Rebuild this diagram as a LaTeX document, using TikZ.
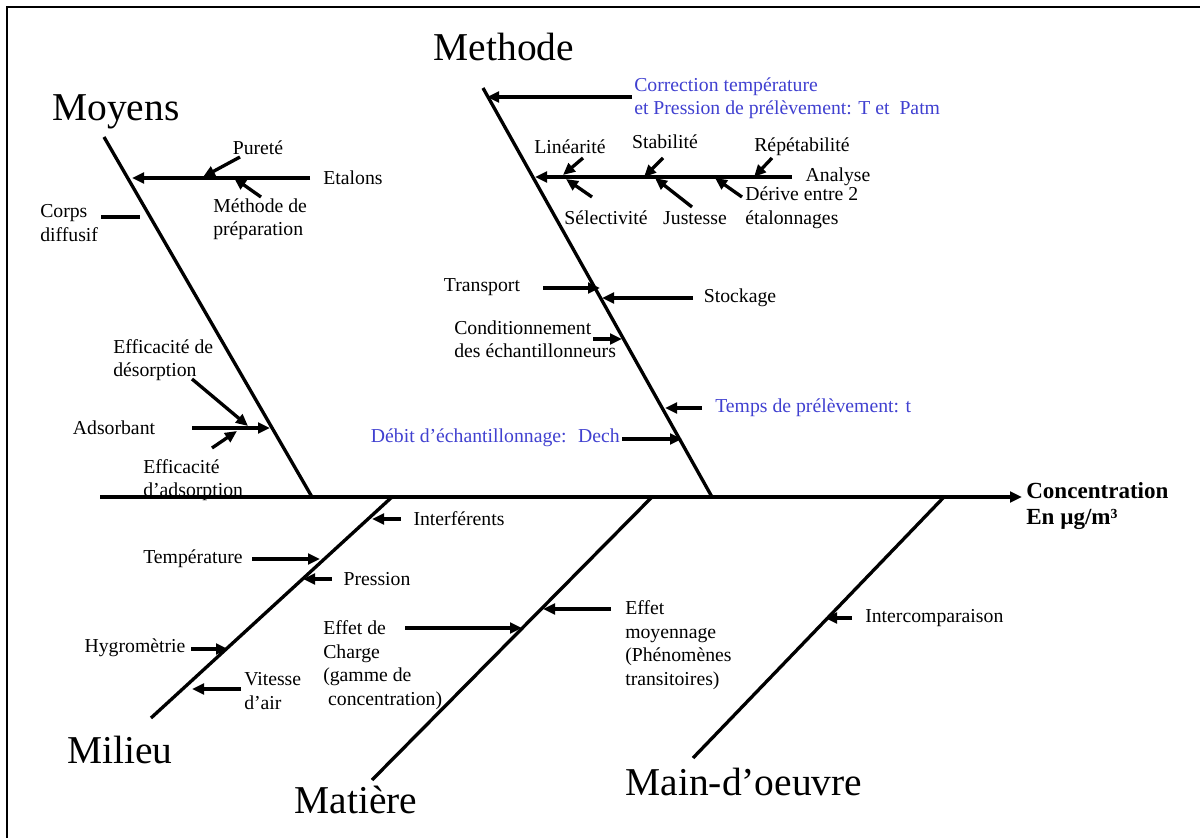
\documentclass[tikz,border=0pt]{standalone}
\usepackage{fontspec}
\setmainfont{Liberation Serif}
\usetikzlibrary{arrows.meta}
\definecolor{lblue}{RGB}{64,64,208}
\begin{document}
\begin{tikzpicture}[x=0.75pt,y=-0.75pt,
  bone/.style={line width=2.5pt},
  arr/.style={line width=2.5pt,-{Triangle[length=9pt,width=8pt]}},
  lbl/.style={font=\fontsize{14.8}{17.6}\selectfont, inner sep=0pt, align=left},
  blbl/.style={lbl, text=lblue},
  big/.style={font=\fontsize{29.6}{34}\selectfont, inner sep=0pt},
  ]
\useasboundingbox (0,0) rectangle (1200,838);
% frame
\draw[line width=1.6pt] (7,838) -- (7,7) -- (1200,7);

% ---------- coordinates ----------
\coordinate (sp0) at (100,497);   \coordinate (sp1) at (1022,497);
\coordinate (moT) at (104,137);   \coordinate (moB) at (312,497);
\coordinate (meT) at (483,88);    \coordinate (meB) at (712,497);
\coordinate (miT) at (392,497);   \coordinate (miB) at (151,718);
\coordinate (maT) at (652,497);   \coordinate (maB) at (372,780);
\coordinate (mdT) at (944,497);   \coordinate (mdB) at (693,758);

% ---------- bones ----------
\draw[arr] (sp0) -- (sp1);
\draw[bone] (moT) -- (moB);
\draw[bone] (meT) -- (meB);
\draw[bone] (miT) -- (miB);
\draw[bone] (maT) -- (maB);
\draw[bone] (mdT) -- (mdB);

% ---------- big labels ----------
\node[big] (moyens) at (116,112) {Moyens};
\node[big] (methode) at (504,47) {Methode};
\node[big] (milieu) at (120,750) {Milieu};
\node[big] (matiere) at (356,800) {Matière};
\node[big] (mainoeuvre) at (744,782) {Main-d’oeuvre};
\node[lbl, font=\fontsize{17.3}{20}\selectfont\bfseries, anchor=west] (conc) at (1026,506) {Concentration\\En µg/m³};

% ---------- Moyens ----------
\node[lbl] (etalons) at (353,178) {Etalons};
\node[lbl] (purete) at (258,148) {Pureté};
\node[lbl, anchor=west] (methprep) at (213,219) {Méthode de\\préparation};
\node[lbl, anchor=west] (corps) at (40,223) {Corps\\diffusif};
\node[lbl, anchor=west] (effdes) at (113,360) {Efficacité de\\désorption};
\node[lbl] (adsorbant) at (114,428) {Adsorbant};
\node[lbl, anchor=west] (effads) at (143,480) {Efficacité\\d’adsorption};

\draw[arr] (310,178) coordinate (etA) -- (132,178) coordinate (etB);
\draw[arr] (240,157) coordinate (puA) -- (203,177) coordinate (puB);
\draw[arr] (261,197) coordinate (mpA) -- (234,178) coordinate (mpB);
\draw[bone] (101,217) coordinate (coA) -- (140,217) coordinate (coB);
\draw[arr] (192,428) coordinate (adA) -- (270,428) coordinate (adB);
\draw[arr] (192,379) coordinate (edA) -- (248,426) coordinate (edB);
\draw[arr] (212,448) coordinate (eaA) -- (237,431) coordinate (eaB);

% ---------- Methode ----------
\node[blbl, anchor=west] (correction) at (634,98) {Correction température\\et Pression de prélèvement: T et~ Patm};
\node[lbl] (linearite) at (570,147) {Linéarité};
\node[lbl] (stabilite) at (665,142) {Stabilité};
\node[lbl] (repet) at (802,147) {Répétabilité};
\node[lbl] (analyse) at (838,177) {Analyse};
\node[lbl] (select) at (606,218) {Sélectivité};
\node[lbl] (justesse) at (695,218) {Justesse};
\node[lbl, anchor=west] (derive) at (745,208) {Dérive entre 2\\étalonnages};
\node[lbl] (transport) at (482,287) {Transport};
\node[lbl] (stockage) at (740,298) {Stockage};
\node[lbl, anchor=west] (condit) at (454,339) {Conditionnement\\des échantillonneurs};
\node[blbl, anchor=west] (temps) at (715,408) {Temps de prélèvement: t};
\node[blbl, anchor=east] (debit) at (620,438) {Débit d’échantillonnage:~ Dech};

\draw[arr] (632,97) coordinate (crA) -- (487,97) coordinate (crB);
\draw[arr] (792,177) coordinate (anA) -- (535,177) coordinate (anB);
\draw[arr] (583,158) coordinate (liA) -- (563,175) coordinate (liB);
\draw[arr] (592,197) coordinate (seA) -- (566,179) coordinate (seB);
\draw[arr] (663,158) coordinate (stA) -- (644,177) coordinate (stB);
\draw[arr] (692,207) coordinate (juA) -- (655,178) coordinate (juB);
\draw[arr] (772,158) coordinate (reA) -- (754,177) coordinate (reB);
\draw[arr] (742,197) coordinate (deA) -- (715,178) coordinate (deB);
\draw[arr] (543,288) coordinate (trA) -- (600,288) coordinate (trB);
\draw[arr] (693,298) coordinate (skA) -- (602,298) coordinate (skB);
\draw[arr] (593,339) coordinate (cdA) -- (622,339) coordinate (cdB);
\draw[arr] (702,408) coordinate (tpA) -- (665,408) coordinate (tpB);
\draw[arr] (622,439) coordinate (dbA) -- (682,439) coordinate (dbB);

% ---------- Milieu ----------
\node[lbl] (interf) at (459,519) {Interférents};
\node[lbl] (temper) at (193,559) {Température};
\node[lbl] (pression) at (377,579) {Pression};
\node[lbl] (hygro) at (135,648) {Hygromètrie};
\node[lbl, anchor=west] (vitesse) at (244,691) {Vitesse\\d’air};

\draw[arr] (401,519) coordinate (inA) -- (372,519) coordinate (inB);
\draw[arr] (252,559) coordinate (teA) -- (320,559) coordinate (teB);
\draw[arr] (332,579) coordinate (prA) -- (303,579) coordinate (prB);
\draw[arr] (191,649) coordinate (hyA) -- (228,649) coordinate (hyB);
\draw[arr] (241,689) coordinate (viA) -- (192,689) coordinate (viB);

% ---------- Matiere ----------
\node[lbl, anchor=west] (effcharge) at (323,665) {Effet de\\Charge\\(gamme de\\\ concentration)};
\node[lbl, anchor=west] (effmoy) at (625,645) {Effet\\moyennage\\(Phénomènes\\transitoires)};
\draw[arr] (405,628) coordinate (ecA) -- (522,628) coordinate (ecB);
\draw[arr] (611,609) coordinate (emA) -- (543,609) coordinate (emB);

% ---------- Main-d'oeuvre ----------
\node[lbl, anchor=west] (interc) at (865,618) {Intercomparaison};
\draw[arr] (852,618) coordinate (icA) -- (825,618) coordinate (icB);
\end{tikzpicture}
\end{document}
